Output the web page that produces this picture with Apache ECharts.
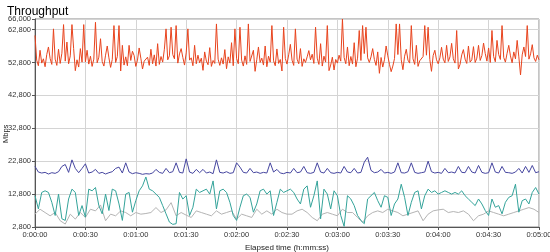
<!DOCTYPE html>
<html><head><meta charset="utf-8">
<script src="https://cdn.jsdelivr.net/npm/echarts@6/dist/echarts.min.js"></script>
<style>html,body{margin:0;padding:0;background:#fff}#c{width:550px;height:252px}</style>
</head><body><div id="c"></div>
<script>
// Elapsed time axis ticks (seconds) and labels
const xTicks = [0,30,60,90,120,150,180,210,240,270,300];
const xTickLabels = ["0:00:00","0:00:30","0:01:00","0:01:30","0:02:00","0:02:30","0:03:00","0:03:30","0:04:00","0:04:30","0:05:00"];
const yTickLabels = ["2,800","12,800","22,800","32,800","42,800","52,800","62,800","66,000"];

// Sampling steps (seconds) for each series
const redStep = 1, blueStep = 2, tealStep = 2, grayStep = 3;

// Red series (1 s samples)
const redValues = [
61000,53500,51800,56500,52600,53900,51500,55200,57500,54000,52200,63000,53800,51900,56800,52500,55600,64300,53200,59000,
52400,54800,64300,57000,50300,53600,51400,57000,52900,64300,53000,56500,52300,54700,51600,53800,65000,52700,54400,60000,
53100,51700,55000,57800,54200,51300,53700,64000,52800,54600,64000,50200,58000,52000,54500,51800,58000,53400,56200,54900,
51600,53500,57200,54100,50800,53200,52700,54400,51900,56800,52400,55100,51700,58500,52200,54600,52900,56800,63000,53600,
54800,63500,55200,53900,64000,52600,55400,57000,54300,52000,55700,63000,53500,54200,51800,58000,52400,55000,52700,54100,
50400,56000,53200,52100,57300,51600,53400,52500,64500,53800,51900,54200,52300,56700,50900,54500,52600,58800,51800,63000,
54000,52400,63500,53500,51700,54800,52200,64500,53100,52600,56500,50100,53600,57500,52800,54100,52000,57800,51500,54700,
52900,64000,53300,51800,56900,52500,53700,50200,63500,54000,52300,55100,58300,53500,51900,63000,53800,52400,57000,51600,
53900,52800,54500,56400,53600,55300,52500,63500,54100,52200,58500,51700,54700,52900,64000,50300,52000,54400,50500,53700,
52600,55000,53200,66000,54300,52400,57500,51800,54600,52300,58800,51500,54100,62500,53400,64000,55500,63500,54200,52800,
54500,57000,53700,51900,56000,49500,54300,51400,53600,57800,54800,52200,50000,51700,54000,64500,55200,64500,53600,50600,
54700,56800,53500,52600,64000,53900,52200,58000,51600,53300,52900,54600,64000,55000,63500,53700,50100,54900,56500,53600,
52400,54200,57400,53800,52700,58000,53100,54500,58600,53900,52600,62500,50800,52200,55100,56700,53800,52500,57800,52900,
53600,57600,52800,54100,58000,53400,54900,58700,55500,53200,57200,52800,62500,54600,53000,59500,55200,53700,64000,54300,
52900,55600,58000,54800,52700,56000,53900,59500,54500,49000,55100,57500,54600,64000,53800,55400,58200,54200,53100,55000,
53600];

// Blue series (2 s samples)
const blueValues = [
21200,19500,19200,19400,18900,19300,19100,19600,21200,21800,
19400,23200,20600,19300,20600,22000,19200,19500,20300,19100,
19400,18900,19300,19600,20600,21000,19200,22300,19500,19000,
19300,19100,18800,19000,18900,19200,20300,19400,19100,20600,
19300,19600,22300,19400,19200,23500,19500,19100,20300,19300,
20300,19200,19500,19000,23200,19400,19200,19600,19100,19300,
22300,21000,19400,19200,20600,19300,19500,19100,19400,19200,
22300,19500,20300,19200,19000,19400,19200,20600,19300,19500,
21200,19300,19100,19400,22300,19500,19200,20600,19300,19100,
19400,19200,21200,19500,19300,20600,19200,19400,22500,24000,
20000,19300,19500,20300,19200,19400,19100,19500,22300,19300,
19200,19600,22300,19400,19100,19300,19500,22800,19600,19200,
19400,19100,20600,19300,19500,19200,21200,19400,19300,21200,
19500,19200,21500,19400,19100,19300,22300,19500,19200,21200,
19400,19300,19100,19500,20600,19200,21200,19400,21500,19300,19600];

// Teal series (2 s samples)
const tealValues = [
12300,8300,13300,13800,13300,10300,6300,12800,5300,4800,
11300,14300,13300,6300,9300,5800,14300,13800,14800,9300,
6800,12800,7800,14300,13800,9800,4800,12800,13300,7300,
10800,13800,15300,18000,14300,13800,12800,11800,9300,6800,
4300,3600,3800,13300,11300,12300,6300,8800,14300,13300,
13800,14300,12800,16800,8300,13800,14300,13300,10300,6300,
4800,8800,12300,12800,11800,7300,9800,13800,14300,12800,
13800,6300,10300,14300,13300,13800,14300,13300,11300,9800,
14300,15300,8800,12300,16800,5300,14300,12800,8300,13800,
12300,6300,3000,12300,11300,9300,6300,4800,3800,11300,
12300,13300,10800,8800,12300,11800,6300,9800,11300,15800,
11800,6300,10300,13300,13800,8300,12300,14300,13300,13800,
12800,13300,13800,13300,12800,13300,12800,13800,12300,11300,
10300,9300,11300,9800,7800,6300,11300,8800,9300,6800,
10300,11800,12300,15800,7300,10800,11300,9800,13300,14800,12800];

// Gray series (3 s samples)
const grayValues = [
6700,8200,7200,6200,7200,4700,3700,6700,5200,7200,
5700,8200,7700,9500,4700,6700,6200,7700,7200,6200,
7200,6700,6900,7200,8700,7200,8000,10200,6200,7200,
6400,5700,7700,7200,6700,6200,7700,6700,7200,7700,
5200,6700,6200,5700,8200,6700,7700,6700,8200,7200,
6700,6700,7700,8200,7200,5700,4700,6700,7200,6700,
6200,8200,7200,7200,5700,4200,6200,7200,7700,7200,
8200,7700,7200,6200,6700,7200,7700,4700,6700,7700,
8000,8200,7200,7500,7200,7700,6700,4700,6200,6700,
7700,7200,6700,6200,6700,7200,7700,8200,8700,8200,7200];

function pairs(values, step){ return values.map((v,i)=>[i*step, v]); }
const FONT = "Liberation Sans";
const chart = echarts.init(document.getElementById('c'), null, {renderer:'canvas'});
chart.setOption({
  animation:false,
  backgroundColor:'#fff',
  title:{text:'Throughput', left:2, top:1, textStyle:{fontFamily:FONT, fontSize:12, fontWeight:'normal', color:'#000'}},
  grid:{left:35, right:11, top:19, bottom:25, outerBoundsMode:'none', containLabel:false,
        show:true, borderColor:'#8a8a8a', borderWidth:1, backgroundColor:'transparent'},
  graphic:[{type:'text', x:2, y:143, rotation:Math.PI/2,
    style:{text:'Mbps', fontFamily:FONT, fontSize:7.5, fill:'#222', textVerticalAlign:'top'}}],
  xAxis:{
    type:'value', min:0, max:300, interval:30,
    name:'Elapsed time (h:mm:ss)', nameLocation:'middle', nameGap:17,
    nameTextStyle:{fontFamily:FONT, fontSize:8, color:'#222'},
    axisLine:{show:true, lineStyle:{color:'#555', width:1}},
    axisTick:{show:true, length:3, lineStyle:{color:'#555'}},
    axisLabel:{fontFamily:FONT, fontSize:7.5, color:'#333', margin:4,
      formatter:(v)=>{const i=xTicks.indexOf(Math.round(v)); return i>=0?xTickLabels[i]:'';}},
    splitLine:{show:true, lineStyle:{color:'#d4d4d4', width:1}}
  },
  yAxis:{
    type:'value', min:2800, max:66000, interval:10000,
    axisLine:{show:true, lineStyle:{color:'#555', width:1}},
    axisTick:{show:true, length:3, lineStyle:{color:'#555'}},
    axisLabel:{fontFamily:FONT, fontSize:7.5, color:'#333', margin:4,
      formatter:(v)=>{const s=Math.round(v).toLocaleString('en-US'); return yTickLabels.includes(s)?s:'';}},
    splitLine:{show:true, lineStyle:{color:'#d4d4d4', width:1}}
  },
  series:[
    {name:'gray', type:'line', data:pairs(grayValues,grayStep), showSymbol:false, lineStyle:{color:'#b4b4b4', width:1}, itemStyle:{color:'#b4b4b4'}},
    {name:'teal', type:'line', data:pairs(tealValues,tealStep), showSymbol:false, lineStyle:{color:'#34a39a', width:1}, itemStyle:{color:'#34a39a'}},
    {name:'blue', type:'line', data:pairs(blueValues,blueStep), showSymbol:false, lineStyle:{color:'#4646a0', width:1}, itemStyle:{color:'#4646a0'}},
    {name:'red', type:'line', data:pairs(redValues,redStep), showSymbol:false, lineStyle:{color:'#e8441e', width:1}, itemStyle:{color:'#e8441e'}}
  ]
});
</script></body></html>
